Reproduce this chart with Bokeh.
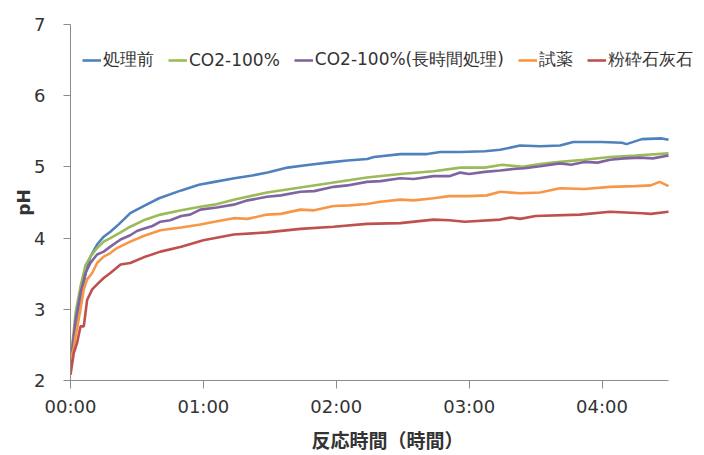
from bokeh.plotting import figure
from bokeh.models import FixedTicker, Legend, LegendItem, Range1d
from bokeh.embed import file_html
from bokeh.resources import INLINE

# --- data (time in minutes, pH) ---
series_names = ["処理前", "CO2-100%", "CO2-100%(長時間処理)", "試薬", "粉砕石灰石"]
series_colors = ["#4F81BD", "#9BBB59", "#8064A2", "#F79646", "#C0504D"]

t_blue = [0, 2, 4.5, 7, 9, 12, 15, 18, 22, 27, 33, 40, 50, 58, 65, 74, 82, 89, 98, 108,
          116, 125, 134, 137, 149, 161, 167, 176, 187, 194, 203, 212, 221, 227, 240, 249,
          251, 258, 267, 270]
ph_blue = [2.25, 2.65, 3.13, 3.53, 3.74, 3.91, 4.02, 4.09, 4.20, 4.35, 4.45, 4.56, 4.67,
           4.75, 4.79, 4.84, 4.88, 4.92, 4.99, 5.03, 5.06, 5.09, 5.11, 5.14, 5.18, 5.18,
           5.21, 5.21, 5.22, 5.24, 5.30, 5.29, 5.30, 5.35, 5.35, 5.34, 5.32, 5.39, 5.40, 5.38]

t_green = [0, 1.5, 2.3, 4.5, 6.8, 9, 12, 15, 18, 22.6, 27, 33, 40.6, 50, 58.6, 65, 73.7,
           88.7, 103.8, 118.8, 133.8, 148.9, 163.9, 176, 187, 195, 204, 212, 221, 232,
           243.6, 255, 270]
ph_green = [2.29, 2.70, 2.95, 3.32, 3.62, 3.74, 3.86, 3.95, 4.00, 4.08, 4.16, 4.25, 4.33,
            4.39, 4.44, 4.47, 4.54, 4.64, 4.71, 4.78, 4.85, 4.90, 4.94, 4.99, 4.99, 5.03,
            5.00, 5.04, 5.07, 5.10, 5.14, 5.16, 5.19]

t_purple = [0, 2.3, 4.5, 6.8, 9, 12, 15, 18, 22.6, 27, 30, 33, 37, 40.6, 45, 50, 54, 58.6,
            66, 73.7, 80, 88.7, 95, 103.8, 110, 118.8, 125, 133.8, 140, 148.9, 155, 163.9,
            171, 176, 180, 187, 194, 200, 205, 212, 221, 226, 232, 238, 243.6, 250, 257,
            263, 270]
ph_purple = [2.22, 2.85, 3.23, 3.51, 3.65, 3.77, 3.81, 3.88, 3.98, 4.04, 4.10, 4.13, 4.17,
             4.23, 4.25, 4.31, 4.33, 4.40, 4.43, 4.47, 4.53, 4.58, 4.60, 4.65, 4.66, 4.72,
             4.74, 4.79, 4.80, 4.84, 4.83, 4.87, 4.87, 4.92, 4.90, 4.93, 4.95, 4.97, 4.98,
             5.01, 5.05, 5.03, 5.07, 5.06, 5.10, 5.12, 5.13, 5.12, 5.16]

t_orange = [0, 1.5, 2.3, 4.5, 6, 7.5, 9.8, 12, 15, 18, 21, 27, 33, 40.6, 50, 58.6, 65,
            73.7, 80, 88.7, 95, 103.8, 110, 118.8, 126, 133.8, 140, 148.9, 155, 163.9,
            171, 180, 188, 194, 203, 212, 221, 232, 243.6, 255, 262, 266, 270]
ph_orange = [2.29, 2.45, 2.62, 3.00, 3.28, 3.42, 3.51, 3.65, 3.74, 3.79, 3.86, 3.95, 4.03,
             4.11, 4.15, 4.19, 4.23, 4.28, 4.27, 4.33, 4.34, 4.40, 4.39, 4.45, 4.46, 4.48,
             4.51, 4.54, 4.53, 4.56, 4.59, 4.59, 4.60, 4.65, 4.63, 4.64, 4.70, 4.69, 4.72,
             4.73, 4.74, 4.79, 4.73]

t_red = [0, 1.5, 3, 4.5, 6, 7.5, 9.8, 12, 15, 18, 22.6, 27, 33, 40.6, 50, 60, 73.7, 88.7,
         103.8, 118.8, 133.8, 148.9, 163.9, 171, 178, 194, 199, 203, 210, 230, 243.6, 258,
         262, 270]
ph_red = [2.08, 2.39, 2.53, 2.76, 2.76, 3.13, 3.28, 3.35, 3.44, 3.51, 3.63, 3.65, 3.73,
          3.81, 3.88, 3.97, 4.05, 4.08, 4.13, 4.16, 4.20, 4.21, 4.26, 4.25, 4.23, 4.26,
          4.29, 4.27, 4.31, 4.33, 4.37, 4.35, 4.34, 4.37]

x_ticks = [0, 1, 2, 3, 4]
x_tick_labels = ["00:00", "01:00", "02:00", "03:00", "04:00"]
x_axis_end = 4.5
y_ticks = [2, 3, 4, 5, 6, 7]

times = [t_blue, t_green, t_purple, t_orange, t_red]
values = [ph_blue, ph_green, ph_purple, ph_orange, ph_red]

W, H = 704, 455
left, top, right_axis_px, bottom = 70, 24, 668, 381
# frame extends to the right canvas edge so the legend is not clipped;
# the x axis line itself stops at x_axis_end via axis bounds
x_view_end = x_axis_end * (W - left) / (right_axis_px - left)

p = figure(width=W, height=H, output_backend="svg", toolbar_location=None,
           x_range=Range1d(0, x_view_end), y_range=Range1d(2, 7),
           min_border_left=left, min_border_right=0, min_border_top=top,
           min_border_bottom=H - bottom)
p.outline_line_color = None
p.xgrid.grid_line_color = None
p.ygrid.grid_line_color = None

items = []
for name, col, tt, vv in zip(series_names, series_colors, times, values):
    r = p.line([t / 60.0 for t in tt], vv, line_color=col, line_width=2.6)
    items.append(LegendItem(label=name, renderers=[r]))

for ax in (p.xaxis[0], p.yaxis[0]):
    ax.axis_line_color = "#8C8C8C"
    ax.major_tick_line_color = "#8C8C8C"
    ax.minor_tick_line_color = None
    ax.major_tick_in = 0
    ax.major_label_text_font = "DejaVu Sans"
    ax.major_label_text_font_size = "18px"
    ax.major_label_text_color = "#333333"
    ax.axis_label_text_font_style = "bold"
    ax.axis_label_text_color = "#333333"

p.xaxis.ticker = FixedTicker(ticks=x_ticks)
p.xaxis.bounds = (0, x_axis_end)
p.xaxis.major_label_overrides = {k: v for k, v in zip(x_ticks, x_tick_labels)}
p.xaxis.major_tick_out = 8
p.xaxis.major_label_standoff = 7
p.xaxis.axis_label = "反応時間（時間）"
p.xaxis.axis_label_text_font = "Noto Sans CJK JP"
p.xaxis.axis_label_text_font_size = "19px"
p.xaxis.axis_label_standoff = 6

p.yaxis.ticker = FixedTicker(ticks=y_ticks)
p.yaxis.major_tick_out = 7
p.yaxis.major_label_standoff = 18
p.yaxis.axis_label = "pH"
p.yaxis.axis_label_text_font = "DejaVu Sans"
p.yaxis.axis_label_text_font_size = "17px"
p.yaxis.axis_label_standoff = -3

legend = Legend(items=items, orientation="horizontal", location=(12, 309),
                glyph_width=19, glyph_height=20, label_standoff=2, spacing=14,
                padding=0, margin=0, border_line_alpha=0, background_fill_alpha=0,
                label_text_font="DejaVu Sans", label_text_font_size="17px",
                label_text_color="#333333")
p.add_layout(legend, "center")

open("out.html", "w").write(file_html(p, INLINE))
